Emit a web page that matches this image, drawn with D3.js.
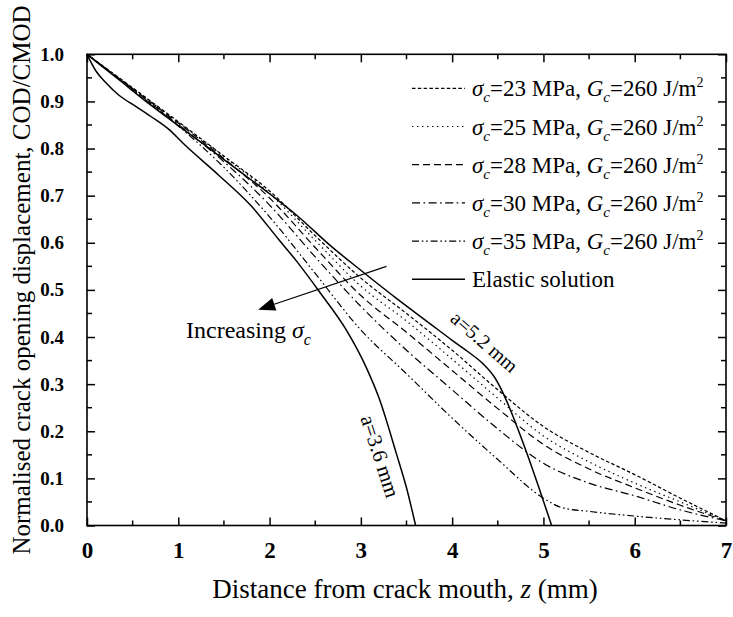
<!DOCTYPE html>
<html>
<head>
<meta charset="utf-8">
<script src="https://cdn.jsdelivr.net/npm/d3@7"></script>
<style>
  html, body { margin: 0; padding: 0; background: #fff; }
  svg text { font-family: "Liberation Serif", "Times New Roman", serif; fill: #000; }
  .tick-label { font-weight: bold; }
</style>
</head>
<body>
<svg id="chart" width="733" height="617"></svg>
<script>
// Normalised COD/CMOD along the crack, z in mm
const sigmaLevels = [23, 25, 28, 30, 35];   // cohesive strength, MPa
const gcValue = 260;                         // fracture energy, J/m^2

const cod23 = [[0,1],[0.5,0.929],[1,0.857],[1.5,0.784],[2,0.71],[2.5,0.615],[3,0.525],[3.5,0.45],[4,0.372],[4.5,0.288],[5,0.21],[5.5,0.155],[6,0.108],[6.5,0.058],[7,0.01]];
const cod25 = [[0,1],[0.5,0.928],[1,0.856],[1.5,0.783],[2,0.705],[2.5,0.605],[3,0.508],[3.5,0.434],[4,0.353],[4.5,0.27],[5,0.19],[5.5,0.135],[6,0.09],[6.5,0.05],[7,0.01]];
const cod28 = [[0,1],[0.5,0.927],[1,0.854],[1.5,0.779],[2,0.695],[2.5,0.59],[3,0.488],[3.5,0.41],[4,0.329],[4.5,0.248],[5,0.172],[5.5,0.12],[6,0.08],[6.5,0.043],[7,0.01]];
const cod30 = [[0,1],[0.5,0.926],[1,0.851],[1.5,0.772],[2,0.68],[2.5,0.57],[3,0.465],[3.5,0.372],[4,0.288],[4.5,0.205],[5,0.132],[5.5,0.09],[6,0.063],[6.5,0.033],[7,0.01]];
const cod35 = [[0,1],[0.5,0.925],[1,0.848],[1.5,0.76],[2,0.655],[2.5,0.535],[3,0.415],[3.5,0.322],[4,0.228],[4.5,0.14],[5,0.058],[5.2,0.038],[5.5,0.03],[6,0.02],[6.5,0.012],[7,0.005]];
const elastic36 = [[0,1],[0.1,0.964],[0.2,0.941],[0.35,0.913],[0.53,0.89],[0.7,0.868],[0.9,0.84],[1.07,0.808],[1.44,0.744],[1.8,0.678],[2.1,0.607],[2.3,0.56],[2.55,0.495],[2.84,0.415],[3.06,0.335],[3.2,0.27],[3.39,0.152],[3.5,0.08],[3.6,0]];
const elastic52 = [[0,1],[0.35,0.946],[0.7,0.892],[1.3,0.806],[1.6,0.762],[2,0.704],[2.3,0.658],[2.66,0.595],[3.03,0.537],[3.39,0.482],[3.76,0.428],[4,0.393],[4.2,0.365],[4.34,0.343],[4.47,0.313],[4.6,0.263],[4.7,0.215],[4.82,0.153],[4.96,0.075],[5.09,0]];

const xTicks = [0, 1, 2, 3, 4, 5, 6, 7];
const yTicks = [0, 0.1, 0.2, 0.3, 0.4, 0.5, 0.6, 0.7, 0.8, 0.9, 1.0];
const elasticLabels = ["a=3.6 mm", "a=5.2 mm"];

const cohesive = [cod23, cod25, cod28, cod30, cod35];
const dashes = ["3.5,2.3", "1.4,3.6", "7,4", "8,3.5,1.6,3.5", "7,2.8,1.6,2.8,1.6,2.8"];

const svg = d3.select("#chart");
svg.append("rect").attr("width", 733).attr("height", 617).attr("fill", "#fff");

const plot = { left: 87, right: 726, top: 54.3, bottom: 525.5 };
const x = d3.scaleLinear().domain([0, 7]).range([plot.left, plot.right]);
const y = d3.scaleLinear().domain([0, 1]).range([plot.bottom, plot.top]);

const line = d3.line().x(d => x(d[0])).y(d => y(d[1])).curve(d3.curveMonotoneX);

// curves
const curves = svg.append("g").attr("fill", "none").attr("stroke", "#000");
cohesive.forEach((s, i) => {
  curves.append("path").attr("d", line(s)).attr("stroke-width", 1.2).attr("stroke-dasharray", dashes[i]);
});
[elastic36, elastic52].forEach(s => {
  curves.append("path").attr("d", line(s)).attr("stroke-width", 1.5);
});

// axes with inward ticks on all four sides
const majorLen = 8, minorLen = 5;
const xMinor = d3.range(0.5, 7, 1);
const yMinor = d3.range(0.05, 1, 0.1);
const axB = d3.axisBottom(x).tickValues(xTicks).tickSizeInner(-majorLen).tickSizeOuter(0).tickFormat(d3.format("d")).tickPadding(majorLen + 8);
const axT = d3.axisTop(x).tickValues(xTicks).tickSizeInner(-majorLen).tickSizeOuter(0).tickFormat("");
const axL = d3.axisLeft(y).tickValues(yTicks).tickSizeInner(-majorLen).tickSizeOuter(0).tickFormat(d3.format(".1f")).tickPadding(majorLen + 15);
const axR = d3.axisRight(y).tickValues(yTicks).tickSizeInner(-majorLen).tickSizeOuter(0).tickFormat("");

function styleAxis(g) {
  g.select(".domain").remove();
  g.selectAll("line").attr("stroke", "#000").attr("stroke-width", 1.5);
}
const gB = svg.append("g").attr("transform", `translate(0,${plot.bottom})`).call(axB).call(styleAxis);
gB.selectAll("text").attr("class", "tick-label").style("font-size", "23px").style("font-weight", "bold");
svg.append("g").attr("transform", `translate(0,${plot.top})`).call(axT).call(styleAxis);
const gL = svg.append("g").attr("transform", `translate(${plot.left},0)`).call(axL).call(styleAxis);
gL.selectAll("text").attr("class", "tick-label").style("font-size", "19px").style("font-weight", "bold");
svg.append("g").attr("transform", `translate(${plot.right},0)`).call(axR).call(styleAxis);

// minor ticks
const minor = svg.append("g").attr("stroke", "#000").attr("stroke-width", 1.5);
xMinor.forEach(v => {
  minor.append("line").attr("x1", x(v)).attr("x2", x(v)).attr("y1", plot.bottom).attr("y2", plot.bottom - minorLen);
  minor.append("line").attr("x1", x(v)).attr("x2", x(v)).attr("y1", plot.top).attr("y2", plot.top + minorLen);
});
yMinor.forEach(v => {
  minor.append("line").attr("y1", y(v)).attr("y2", y(v)).attr("x1", plot.left).attr("x2", plot.left + minorLen);
  minor.append("line").attr("y1", y(v)).attr("y2", y(v)).attr("x1", plot.right).attr("x2", plot.right - minorLen);
});

// frame
svg.append("rect")
  .attr("x", plot.left).attr("y", plot.top)
  .attr("width", plot.right - plot.left).attr("height", plot.bottom - plot.top)
  .attr("fill", "none").attr("stroke", "#000").attr("stroke-width", 1.6);

// axis titles
const xt = svg.append("text").attr("x", 405).attr("y", 598).attr("text-anchor", "middle").attr("font-size", 27);
xt.append("tspan").text("Distance from crack mouth, ");
xt.append("tspan").attr("font-style", "italic").text("z");
xt.append("tspan").text(" (mm)");

svg.append("text")
  .attr("transform", "translate(30,280) rotate(-90)")
  .attr("text-anchor", "middle").attr("font-size", 25)
  .text("Normalised crack opening displacement, COD/CMOD");

// legend
const rowY = [88.3, 126.5, 164.7, 202.9, 241.1, 279.3];
const legend = svg.append("g");
sigmaLevels.forEach((s, i) => {
  const yy = rowY[i];
  legend.append("line").attr("x1", 412).attr("x2", 465).attr("y1", yy).attr("y2", yy)
    .attr("stroke", "#000").attr("stroke-width", 1.2).attr("stroke-dasharray", dashes[i]);
  const t = legend.append("text").attr("x", 472).attr("y", yy + 8).attr("font-size", 23);
  t.append("tspan").attr("font-style", "italic").text("σ");
  t.append("tspan").attr("font-style", "italic").attr("font-size", 15).attr("dy", 6).text("c");
  t.append("tspan").attr("dy", -6).text(`=${s} MPa, `);
  t.append("tspan").attr("font-style", "italic").text("G");
  t.append("tspan").attr("font-style", "italic").attr("font-size", 15).attr("dy", 6).text("c");
  t.append("tspan").attr("dy", -6).text(`=${gcValue} J/m`);
  t.append("tspan").attr("font-size", 14).attr("dy", -9).text("2");
});
legend.append("line").attr("x1", 412).attr("x2", 465).attr("y1", rowY[5]).attr("y2", rowY[5])
  .attr("stroke", "#000").attr("stroke-width", 1.5);
legend.append("text").attr("x", 472).attr("y", rowY[5] + 8).attr("font-size", 23).text("Elastic solution");

// arrow showing the trend with cohesive strength
const arrowFrom = [3.28, 0.55], arrowTo = [1.875, 0.458];
const ax0 = x(arrowFrom[0]), ay0 = y(arrowFrom[1]), ax1 = x(arrowTo[0]), ay1 = y(arrowTo[1]);
const ang = Math.atan2(ay1 - ay0, ax1 - ax0);
const headLen = 17, headHalf = 6.5;
const bx = ax1 - headLen * Math.cos(ang), by = ay1 - headLen * Math.sin(ang);
svg.append("line").attr("x1", ax0).attr("y1", ay0).attr("x2", bx).attr("y2", by)
  .attr("stroke", "#000").attr("stroke-width", 1.2);
svg.append("path")
  .attr("d", `M${ax1},${ay1}L${bx - headHalf * Math.sin(ang)},${by + headHalf * Math.cos(ang)}L${bx + headHalf * Math.sin(ang)},${by - headHalf * Math.cos(ang)}Z`)
  .attr("fill", "#000");

const inc = svg.append("text").attr("x", 186).attr("y", 338).attr("font-size", 24);
inc.append("tspan").text("Increasing ");
inc.append("tspan").attr("font-style", "italic").text("σ");
inc.append("tspan").attr("font-style", "italic").attr("font-size", 16).attr("dy", 7).text("c");

// elastic solution labels
svg.append("text").attr("transform", "translate(378,457) rotate(72)")
  .attr("text-anchor", "middle").attr("dominant-baseline", "middle").attr("font-size", 21).text(elasticLabels[0]);
svg.append("text").attr("transform", "translate(480,347) rotate(41)")
  .attr("text-anchor", "middle").attr("font-size", 20).text(elasticLabels[1]);
</script>
</body>
</html>
